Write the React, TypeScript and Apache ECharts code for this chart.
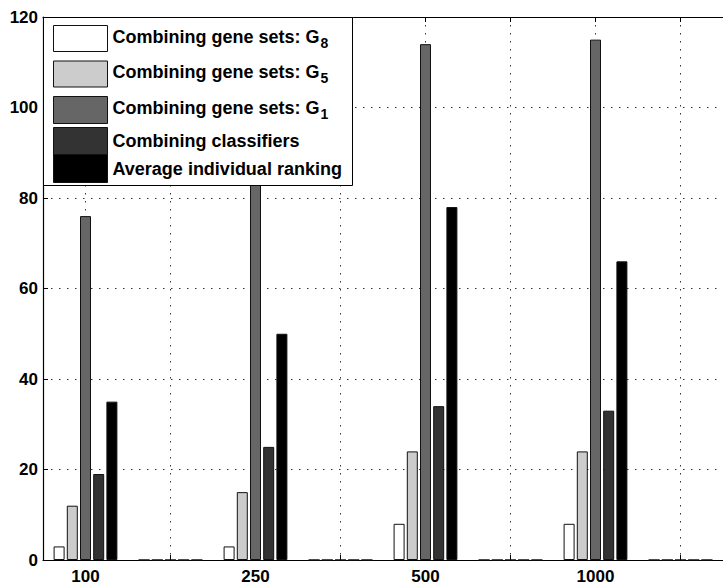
import React, { useEffect, useRef } from "react";
import * as echarts from "echarts";

// Number of selected genes; blank slots hold the empty positions between groups.
const categories = ["100", "", "250", "", "500", "", "1000", ""];

const seriesNames = [
  "Combining gene sets: G8",
  "Combining gene sets: G5",
  "Combining gene sets: G1",
  "Combining classifiers",
  "Average individual ranking",
];
const legendBase = ["Combining gene sets: G", "Combining gene sets: G", "Combining gene sets: G", "Combining classifiers", "Average individual ranking"];
const legendSubscripts = ["8", "5", "1", "", ""];

const geneSetsG8 = [3, 0, 3, 0, 8, 0, 8, 0];
const geneSetsG5 = [12, 0, 15, 0, 24, 0, 24, 0];
const geneSetsG1 = [76, 0, 100, 0, 114, 0, 115, 0];
const classifiers = [19, 0, 25, 0, 34, 0, 33, 0];
const avgRanking = [35, 0, 50, 0, 78, 0, 66, 0];

const seriesValues = [geneSetsG8, geneSetsG5, geneSetsG1, classifiers, avgRanking];
const seriesColors = ["#ffffff", "#cccccc", "#666666", "#333333", "#000000"];

const yMin = 0;
const yMax = 120;
const yStep = 20;

const FONT = "'Liberation Sans', Arial, Helvetica, sans-serif";

// legend entry placement (swatch top, swatch height)
const legendTops = [25, 60.5, 96, 127, 154];
const legendHeights = [26, 26, 27, 27, 28];

export default function App() {
  const ref = useRef<HTMLDivElement>(null);

  useEffect(() => {
    if (!ref.current) return;
    const chart = echarts.init(ref.current, null, { renderer: "svg" });

    const gridLine = {
      show: true,
      lineStyle: { color: "#333", width: 1, type: [1.5, 6.5] as number[] },
    };

    const option: echarts.EChartsOption = {
      animation: false,
      backgroundColor: "#ffffff",
      grid: { left: 43, top: 17, width: 684, height: 543, containLabel: false },
      xAxis: [
        {
          type: "category",
          data: categories,
          position: "bottom",
          boundaryGap: true,
          axisLine: { show: true, lineStyle: { color: "#000", width: 1.2 } },
          axisTick: { show: true, inside: true, length: 5, alignWithLabel: true, interval: 0, lineStyle: { color: "#000" } },
          axisLabel: {
            interval: 0,
            margin: 8,
            color: "#000",
            fontFamily: FONT,
            fontWeight: "bold",
            fontSize: 17,
          },
          splitLine: { ...gridLine, alignWithLabel: true, interval: 0 } as any,
        },
        {
          type: "category",
          data: categories,
          position: "top",
          boundaryGap: true,
          axisLine: { show: true, lineStyle: { color: "#000", width: 1.2 } },
          axisTick: { show: true, inside: true, length: 5, alignWithLabel: true, interval: 0, lineStyle: { color: "#000" } },
          axisLabel: { show: false },
          splitLine: { show: false },
        },
      ],
      yAxis: {
        type: "value",
        min: yMin,
        max: yMax,
        interval: yStep,
        axisLine: { show: true, lineStyle: { color: "#000", width: 1.2 } },
        axisTick: { show: true, inside: true, length: 5, lineStyle: { color: "#000" } },
        axisLabel: {
          margin: 5,
          color: "#000",
          fontFamily: FONT,
          fontWeight: "bold",
          fontSize: 17,
        },
        splitLine: gridLine,
      },
      legend: seriesNames.map((name, i) => ({
        data: [name],
        left: 53,
        top: legendTops[i],
        padding: 0,
        itemGap: 0,
        itemWidth: 54,
        itemHeight: legendHeights[i],
        icon: "rect",
        selectedMode: false,
        z: 5,
        itemStyle: { borderColor: "#111", borderWidth: 1 },
        formatter: () =>
          legendSubscripts[i]
            ? `{m|${legendBase[i]}}{s|${legendSubscripts[i]}}`
            : `{n|${legendBase[i]}}`,
        textStyle: {
          color: "#000",
          fontFamily: FONT,
          fontWeight: "bold",
          fontSize: 18,
          rich: {
            m: { fontFamily: FONT, fontWeight: "bold", fontSize: 18, lineHeight: 18, verticalAlign: "top", color: "#000" },
            s: { fontFamily: FONT, fontWeight: "bold", fontSize: 14, padding: [8, 0, 0, 1], verticalAlign: "top", color: "#000" },
            n: { fontFamily: FONT, fontWeight: "bold", fontSize: 18, lineHeight: 20, color: "#000" },
          },
        },
      })),
      graphic: [
        {
          type: "rect",
          z: 3,
          silent: true,
          shape: { x: 43.5, y: 17.5, width: 309, height: 168 },
          style: { fill: "#ffffff", stroke: "#000", lineWidth: 1 },
        },
      ],
      series: seriesNames.map((name, i) => ({
        name,
        type: "bar",
        xAxisIndex: 0,
        data: seriesValues[i],
        barWidth: 11,
        barGap: "20%",
        itemStyle: { color: seriesColors[i], borderColor: "#111", borderWidth: 1 },
        emphasis: { disabled: true },
        z: 2,
      })),
    };

    chart.setOption(option);
    return () => chart.dispose();
  }, []);

  return (
    <div
      ref={ref}
      style={{ position: "fixed", left: 0, top: 0, width: 723, height: 586, background: "#fff" }}
    />
  );
}
